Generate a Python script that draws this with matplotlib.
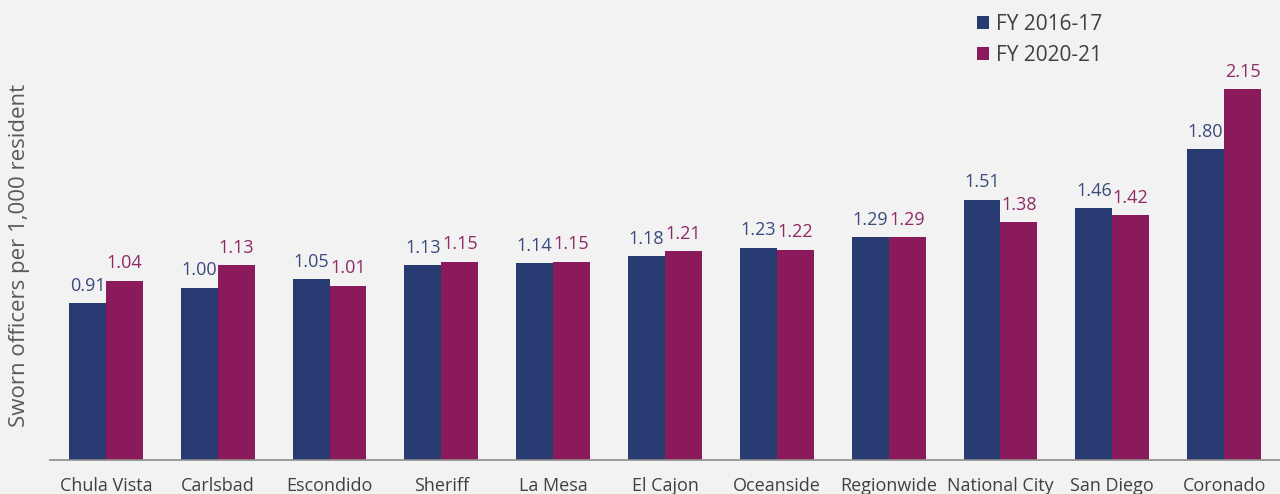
import matplotlib
matplotlib.use("Agg")
import matplotlib.pyplot as plt
import numpy as np

categories = ["Chula Vista", "Carlsbad", "Escondido", "Sheriff", "La Mesa", "El Cajon",
              "Oceanside", "Regionwide", "National City", "San Diego", "Coronado"]
fy1617 = [0.91, 1.00, 1.05, 1.13, 1.14, 1.18, 1.23, 1.29, 1.51, 1.46, 1.80]
fy2021 = [1.04, 1.13, 1.01, 1.15, 1.15, 1.21, 1.22, 1.29, 1.38, 1.42, 2.15]
series_names = ["FY 2016-17", "FY 2020-21"]

plt.rcParams['font.family'] = ['Open Sans', 'DejaVu Sans']

BG = "#f2f2f2"
C1 = "#283a72"
C2 = "#8a1a5c"
L1 = "#3b4a7c"
L2 = "#8e2a66"

fig = plt.figure(figsize=(12.8, 4.94), dpi=100, facecolor=BG)
ax = fig.add_axes([50/1280, 34/494, 1230/1280, 460/494], facecolor=BG)

x = np.arange(len(categories))
w = 0.33
b1 = ax.bar(x - w/2, fy1617, w, color=C1, label=series_names[0])
b2 = ax.bar(x + w/2, fy2021, w, color=C2, label=series_names[1])

for bars, vals, col in ((b1, fy1617, L1), (b2, fy2021, L2)):
    for rect, v in zip(bars, vals):
        ax.annotate(f"{v:.2f}", (rect.get_x() + rect.get_width()/2, v),
                    xytext=(0, 6), textcoords="offset points",
                    ha="center", va="bottom", fontsize=13, color=col)

ax.set_xlim(-0.5, len(categories) - 0.5)
ax.set_ylim(0, 460/172.5)
ax.set_xticks(x)
ax.set_xticklabels(categories, fontsize=13, color="#404040")
ax.tick_params(axis="x", length=0, pad=12)
ax.set_yticks([])
for s in ["top", "right", "left"]:
    ax.spines[s].set_visible(False)
ax.spines["bottom"].set_color("#8c8c8c")
ax.spines["bottom"].set_linewidth(1.2)

fig.text(20/1280, 1 - 255/494, "Sworn officers per 1,000 resident", rotation=90,
         ha="center", va="center", fontsize=16, color="#595959")

leg = fig.legend(handles=[b1, b2], labels=series_names, loc="upper left",
                 bbox_to_anchor=(958/1280, 1 + 5/494), frameon=False,
                 fontsize=15, handlelength=0.6, handleheight=0.6,
                 handletextpad=0.3, labelspacing=0.5, labelcolor="#404040")

fig.savefig("out.png", dpi=100, facecolor=BG)
